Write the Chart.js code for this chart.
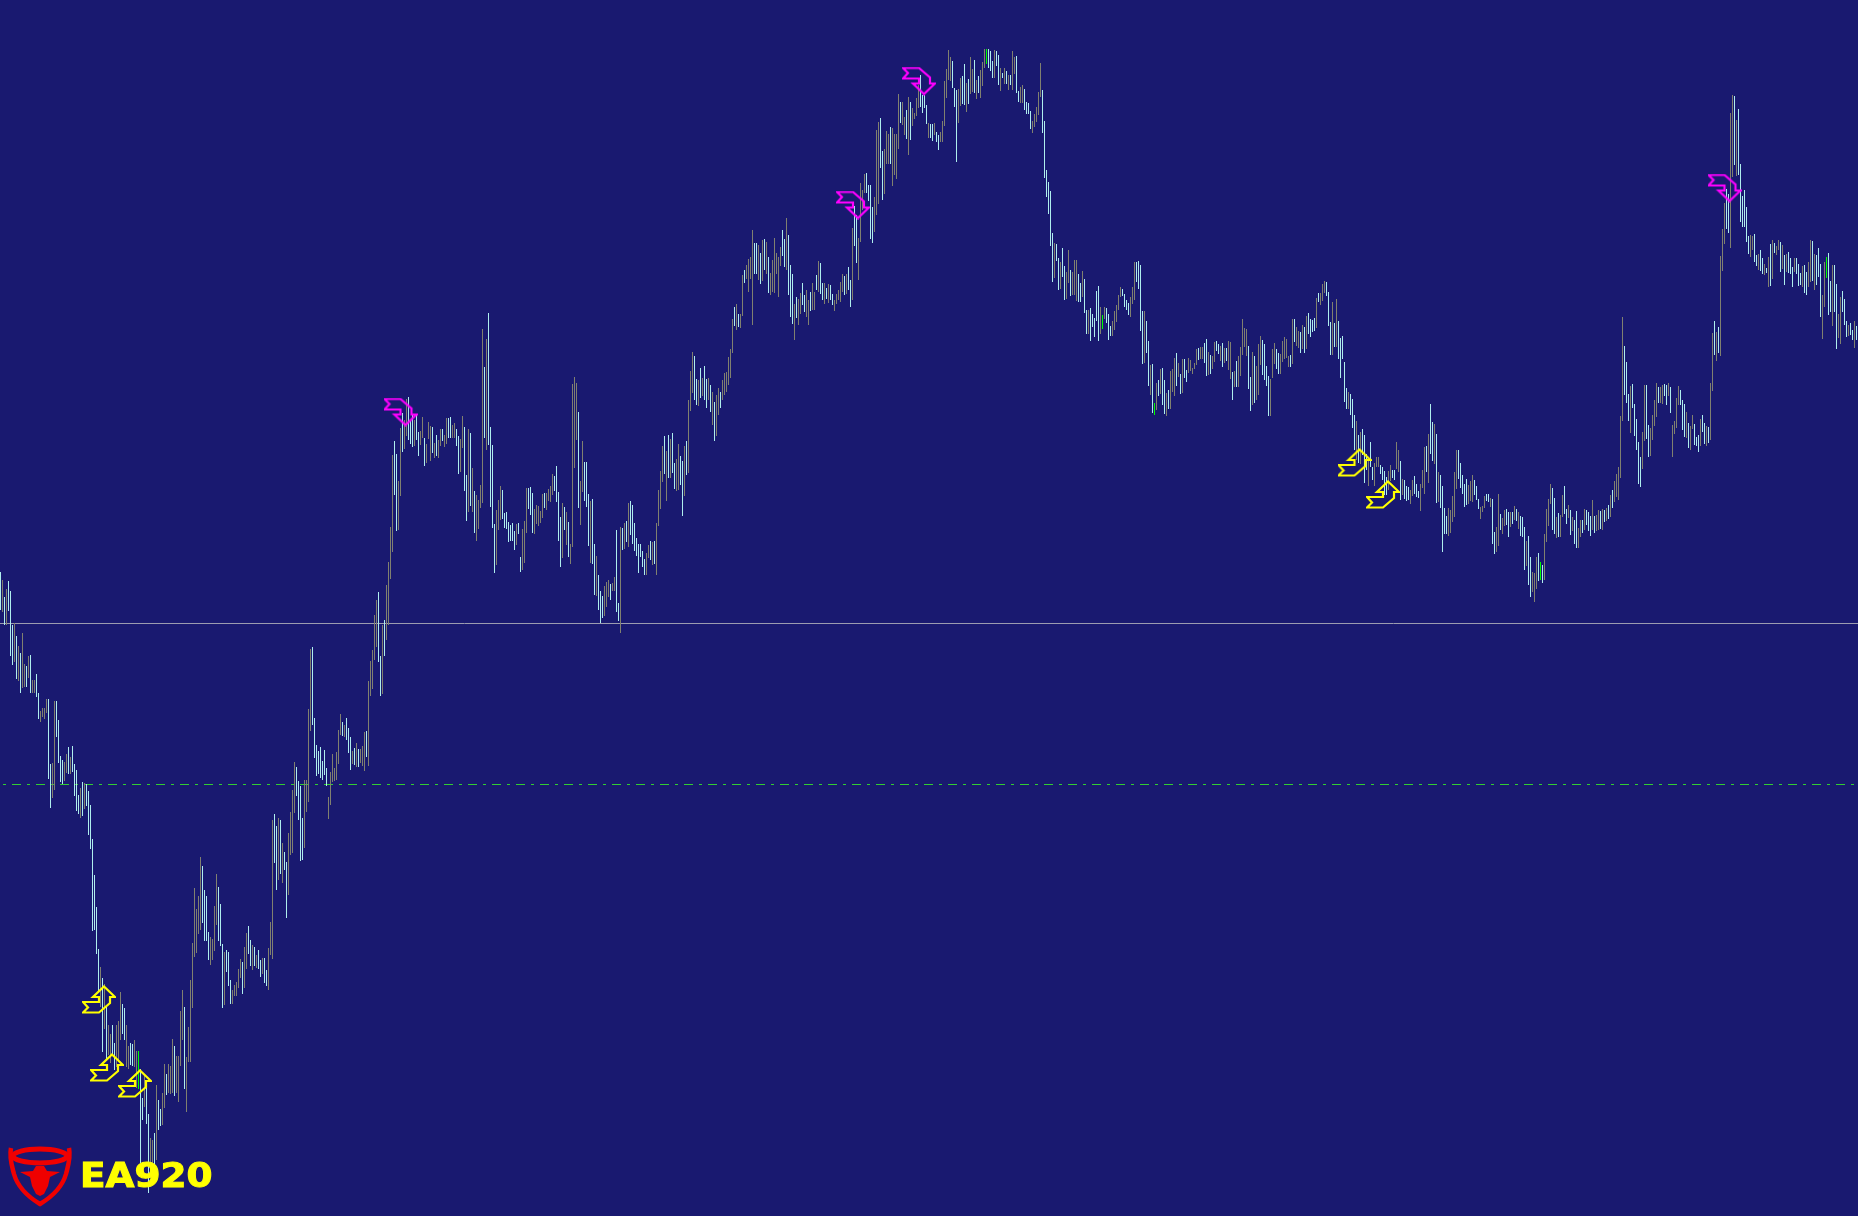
<!DOCTYPE html>
<html>
<head>
<meta charset="utf-8">
<title>EA920</title>
<script src="https://cdn.jsdelivr.net/npm/chart.js@4/dist/chart.umd.js"></script>
<style>
  html, body { margin: 0; padding: 0; background: #191970; overflow: hidden; }
  #wrap { position: relative; width: 1858px; height: 1216px; }
  canvas { display: block; }
  #bull { position: absolute; left: 0; top: 1140px; filter: blur(0.5px); }
  #brand {
    position: absolute; left: 80px; top: 1154px; color: #ffff00;
    font: bold 34px "DejaVu Sans"; line-height: 42px; letter-spacing: 0;
    transform: scaleX(1.1); transform-origin: left top;
    -webkit-text-stroke: 1px #ffff00; filter: blur(0.5px);
  }
</style>
</head>
<body>
<div id="wrap">
  <canvas id="chart" width="1858" height="1216"></canvas>
  <svg id="bull" width="80" height="70" viewBox="0 0 80 70">
    <g fill="none" stroke="#f00000">
      <ellipse cx="40" cy="16" rx="27" ry="7" stroke-width="5"/>
      <path stroke-width="4.5" d="M11 8 C9 18 12 26 14 34 C18 48 30 58 40 64 C50 58 62 48 66 34 C68 26 71 18 69 8"/>
    </g>
    <path fill="#f00000" d="M20 32 L33 31 L36 26 L44 26 L47 31 L60 32 L50 37 L48 46 L44 54 L40 56 L36 54 L32 46 L30 37 Z"/>
  </svg>
  <div id="brand">EA920</div>
</div>
<script>
// values, levels count down from the top of the window
const highs = [
  572,580,597,589,581,591,625,623,636,646, 653,633,664,666,656,655,680,680,674,693,
  711,708,708,699,699,764,763,701,701,720, 756,760,762,754,747,757,746,764,770,795,
  788,782,783,784,791,805,839,875,907,949, 967,978,984,1005,1025,1034,1025,1043,1025,1021,
  992,1004,1008,1025,1046,1043,1044,1040,1051,1051, 1069,1098,1075,1082,1114,1138,1140,1133,1085,1100,
  1109,1093,1064,1074,1064,1066,1039,1046,1056,1056, 1011,990,1007,1057,1027,980,943,888,909,896,
  857,866,890,896,932,937,939,906,874,887, 904,944,952,950,952,980,990,985,982,969,
  959,962,947,933,926,940,945,947,955,950, 960,958,958,970,948,922,820,814,826,818,
  820,843,852,862,833,812,790,762,767,781, 786,818,780,780,709,649,647,718,745,751,
  747,761,750,768,797,772,754,768,752,730, 714,722,725,718,728,737,751,748,743,749,
  749,746,732,731,681,661,650,615,600,592, 656,625,620,585,562,527,455,441,454,481,
  428,413,420,399,397,421,415,420,414,432, 431,417,438,444,422,426,427,443,435,440,
  429,429,435,418,418,417,425,423,429,436, 439,416,427,475,429,433,468,491,495,500,
  485,329,367,339,313,427,445,524,510,500, 486,490,513,512,522,525,523,531,524,523,
  557,529,521,488,488,487,493,509,505,506, 511,494,493,493,489,486,474,476,466,492,
  517,503,507,512,522,544,384,377,383,412, 481,441,462,462,494,501,499,544,556,575,
  591,596,586,582,580,584,583,577,530,603, 527,528,523,521,503,501,505,523,538,544,
  544,551,559,553,545,541,542,541,523,490, 471,446,436,451,435,439,433,463,459,444,
  456,461,446,441,400,371,352,356,379,380, 368,378,366,379,378,385,392,402,395,388,
  392,380,373,372,357,349,319,307,304,314, 314,275,270,265,259,257,230,243,243,245,
  253,240,239,242,257,273,260,238,253,257, 247,230,239,218,235,265,274,304,297,299,
  293,283,295,290,300,292,283,292,275,261, 263,283,283,288,284,285,294,300,294,290,
  282,274,276,274,267,280,228,206,215,238, 183,190,174,173,185,185,207,197,130,122,
  118,151,149,131,134,127,128,134,134,94, 102,102,117,110,97,102,108,113,98,85,
  75,95,95,105,123,124,124,123,132,135, 132,121,81,69,50,57,61,88,90,89,
  78,76,64,83,79,57,69,60,80,76, 70,62,49,49,49,51,61,50,51,55,
  68,73,68,71,75,75,51,57,56,91, 87,85,89,102,103,111,121,114,107,92,
  63,90,121,170,182,191,233,243,244,258, 262,248,266,272,250,270,272,260,260,274,
  283,271,279,310,310,308,314,318,291,286, 307,315,307,308,314,326,321,311,305,295,
  287,289,294,300,303,297,287,262,262,261, 265,311,311,321,341,365,364,403,383,380,
  369,368,380,393,390,371,369,358,353,363, 374,359,359,370,358,360,368,363,349,348,
  347,347,343,339,352,355,356,342,341,344, 346,343,348,348,341,342,372,371,361,356,
  347,319,328,329,346,377,352,356,366,344, 336,340,344,366,376,379,349,343,349,353,
  354,341,337,339,356,355,319,319,327,331, 332,325,327,316,313,319,320,318,298,293,
  293,284,281,282,292,322,302,323,299,321, 338,336,362,388,392,394,399,415,421,435,
  432,429,435,454,459,442,467,463,457,457, 465,467,471,477,471,465,470,470,442,450,
  461,479,480,486,487,490,480,476,484,491, 484,470,447,446,434,404,422,424,434,472,
  475,486,508,516,508,510,496,472,450,450, 463,475,484,479,485,481,475,480,486,499,
  507,506,496,494,494,498,499,532,527,494, 514,518,510,509,512,512,512,506,509,512,
  516,517,527,541,536,557,572,573,557,553, 562,565,534,509,499,484,488,498,517,513,
  515,495,486,509,505,510,517,520,511,528, 520,520,509,510,512,516,500,516,515,510,
  511,509,510,508,505,495,490,481,474,467, 416,317,346,362,394,386,384,404,419,442,
  457,432,385,385,425,428,415,400,383,387, 387,385,384,385,383,387,425,421,398,386,
  390,400,404,412,423,426,415,424,437,435, 419,415,423,426,427,383,333,321,332,327,
  256,229,203,189,194,113,95,96,120,109, 164,196,190,207,236,235,236,234,255,254,
  250,258,264,268,257,244,240,243,246,240, 242,245,255,254,252,258,267,258,258,264,
  273,266,265,272,262,240,241,254,255,248, 264,295,262,257,253,281,265,265,284,314,
  297,291,299,321,325,323,330,321,326
];
const lows = [
  610,612,625,625,611,656,665,662,679,681, 693,688,687,687,678,693,693,693,697,719,
  722,717,719,713,779,808,798,790,737,763, 782,784,781,773,774,774,772,796,811,814,
  818,816,809,806,835,849,931,930,954,992, 1007,1052,1029,1060,1055,1063,1055,1070,1067,1062,
  1040,1034,1040,1067,1069,1065,1066,1067,1088,1089, 1163,1120,1107,1124,1193,1170,1170,1170,1160,1130,
  1126,1125,1108,1095,1093,1094,1093,1096,1093,1102, 1066,1040,1089,1112,1062,1062,1008,957,953,934,
  930,923,941,941,960,965,960,951,925,941, 946,1008,1005,972,986,1004,1004,996,996,988,
  978,994,988,969,954,966,970,966,968,969, 977,974,983,986,990,955,959,863,890,880,
  874,883,870,918,895,855,853,813,796,820, 861,860,848,812,802,731,725,758,776,774,
  778,780,775,786,819,805,782,781,780,764, 735,736,737,740,753,770,764,765,767,767,
  763,766,771,757,766,696,689,660,647,662, 696,694,656,640,625,579,552,495,531,530,
  496,452,449,436,440,444,447,446,440,456, 445,438,466,463,439,461,453,458,456,458,
  446,441,447,444,438,438,438,438,446,474, 472,448,491,521,512,506,512,533,541,529,
  508,503,438,450,445,507,528,573,565,530, 520,519,528,529,542,541,541,550,545,534,
  572,570,563,533,509,515,533,534,524,526, 523,518,508,510,501,502,495,491,502,541,
  567,558,530,545,557,564,547,468,440,508, 525,492,501,507,546,563,564,595,596,610,
  623,618,616,607,597,600,591,591,612,621, 633,550,549,542,547,535,544,551,556,573,
  557,567,575,575,558,560,565,564,575,526, 509,482,474,501,478,478,473,489,491,490,
  485,516,496,475,473,411,393,400,405,406, 398,396,400,408,400,412,425,441,436,415,
  408,400,395,392,385,378,353,326,330,327, 328,316,283,279,292,279,325,274,274,280,
  284,281,270,274,293,295,292,293,274,297, 266,256,267,270,295,317,324,340,318,325,
  314,305,312,317,325,311,310,310,290,292, 294,300,304,299,303,300,305,311,304,300,
  302,292,295,294,290,307,300,246,263,280, 242,210,193,193,201,239,243,232,215,204,
  168,200,194,164,164,164,186,175,179,149, 123,125,135,139,155,140,126,119,116,108,
  107,113,108,124,138,138,141,135,142,150, 142,142,126,98,80,81,88,107,162,123,
  106,104,105,112,104,94,92,93,99,93, 98,86,68,64,68,71,78,78,66,85,
  91,78,84,84,90,85,90,74,93,102, 103,103,110,114,114,129,133,127,122,115,
  97,133,178,197,214,246,282,278,261,290, 289,277,300,299,283,296,295,295,301,302,
  302,297,313,334,334,341,327,337,321,341, 334,329,319,323,340,336,336,330,322,310,
  297,296,307,310,315,317,304,300,282,289, 331,364,363,353,386,395,413,415,410,396,
  394,405,414,416,409,409,392,396,386,377, 394,393,378,382,373,371,374,369,365,360,
  359,359,363,376,375,374,369,362,351,354, 361,367,363,361,370,379,400,387,387,387,
  376,355,347,356,389,411,405,403,400,395, 365,375,380,386,416,416,378,364,369,374,
  374,362,359,358,367,367,364,342,346,348, 353,349,353,349,334,337,332,331,328,302,
  305,301,293,296,326,355,355,347,347,359, 378,359,402,409,409,415,428,450,460,463,
  464,455,483,470,486,467,480,486,467,467, 474,480,495,495,490,481,478,480,469,472,
  500,495,499,501,500,504,496,494,497,498, 511,488,494,472,483,454,461,464,503,502,
  508,552,534,534,536,533,522,517,489,479, 488,494,507,505,504,501,502,495,500,509,
  519,512,508,501,502,507,544,554,552,546, 530,534,526,525,537,527,524,520,521,529,
  536,537,570,566,585,597,592,602,589,581, 580,583,580,542,526,504,530,534,538,537,
  537,517,514,524,518,535,531,544,548,548, 537,533,530,525,531,536,530,533,531,530,
  529,530,522,521,519,517,508,502,497,500, 478,421,395,403,421,433,408,436,450,484,
  487,469,441,439,457,456,440,426,417,403, 403,404,396,405,396,413,457,434,428,405,
  405,430,437,438,448,450,429,445,446,452, 446,432,444,446,443,440,391,355,361,353,
  356,271,244,229,233,248,177,165,176,175, 222,227,227,242,254,257,250,262,266,270,
  271,274,275,273,287,286,279,253,255,250, 272,269,285,272,273,274,287,272,274,286,
  285,287,293,295,287,282,281,290,285,277, 317,339,307,278,315,312,326,312,349,338,
  344,312,325,337,336,335,340,348,340
];
// c = falling bar, g = rising bar, x = flat bar
const barTones = [
  'cgcgcccgcg','cggcgcggcc','ggggccggcc','ccggcgcccc','gcgccccccc','gcgcggccgg','gccggccggx','ccgccggcgc',
  'cggcgggcgg','ggcggggggg','gccccggggc','ccgcccgggg','gcggccgcgc','cgccgggccg','cgccggggcc','ccggggcccc',
  'ccccgggggg','gcgcccgcgc','gggcgggggc','cgcggggccg','gcggcccgcc','ggcgggcgcg','gcggccggcc','ggccgcgcgg',
  'ggcgccccgg','gcccccccgc','cgggcccggg','ggcggggccc','cgcgcggggc','ggcccgccgc','ccgggcggcc','gcgcgccccc',
  'cccggcgcgg','ggcgcgccgg','ccgcgggccg','cgccgcgcgg','cggggggcgc','ggcggggccg','cgcgcggggg','gccgcccgcg',
  'gccggcggcg','ccgcgccggg','ggcgccgccg','gggccccggg','ccgggcgggg','cggcgcgggg','ccccgccgcc','ggggggcccg',
  'gccgcggcgc','gggxcccgcc','gcgcgcggcc','ggccccgggg','gccccccgcc','gccggcgggc','cgccgccccc','gxgcccgggg',
  'gccccgggcc','ccgccgcxgc','gccgcgggcg','cgccgggggc','ggccgcggcc','gcgcggcgcg','ggggccgcgg','gccccgggcc',
  'gggggcgcgg','cgcgccccgc','gggcccgcgc','ccccgcccgc','gcccgccggg','ccccggccgg','cgcccggccc','gggcgccgcg',
  'ccccgggggc','ccccgggccc','gggccgccgg','cggccgcgcg','cccgccgggc','xcggggccgc','ggccgcgccg','gcgcccgcgg',
  'cgcgcgcggg','ggcccgcccc','cggccggggc','ggccgcgggg','cccgcggccc','gccgcggcgc','gggccggcgc','cccccggccg',
  'ccgcgcgcgg','cgcgcccgcc','cgccggcgcc','cggxccgccg','gcccgccgc'
].join('');

const resistanceLevel = 623.5;
const pivotLevel = 784.5;

// signal arrows, bar position and level of the marker centre
const buyBars = [49.25, 53.25, 67.25, 677, 691.25];
const buyLevels = [999.5, 1067.5, 1083.5, 462.5, 494.5];
const sellBars = [200, 426.25, 459.25, 862];
const sellLevels = [412, 205, 81, 188];

const toneColors = { c: '#afeeee', g: '#808070', x: '#00ff00' };

// MT4 style hollow arrow, the sell one is the buy one flipped
function arrowIcon(color, flip) {
  const c = document.createElement('canvas');
  c.width = 34;
  c.height = 29;
  const g = c.getContext('2d');
  if (flip) {
    g.translate(0, 29);
    g.scale(1, -1);
  }
  g.strokeStyle = color;
  g.lineWidth = 2.2;
  g.lineJoin = 'miter';
  g.beginPath();
  g.moveTo(1, 17);
  g.lineTo(17, 17);
  g.lineTo(17, 12);
  g.lineTo(11, 12);
  g.lineTo(22, 1.5);
  g.lineTo(33, 12);
  g.lineTo(28, 12);
  g.lineTo(28, 18);
  g.lineTo(17, 27.5);
  g.lineTo(1, 27.5);
  g.lineTo(6, 22.5);
  g.closePath();
  g.stroke();
  return c;
}

new Chart(document.getElementById('chart'), {
  data: {
    datasets: [
      {
        type: 'scatter',
        order: 0,
        data: buyBars.map((x, i) => ({ x: x, y: buyLevels[i] })),
        pointStyle: arrowIcon('#ffff00', false)
      },
      {
        type: 'scatter',
        order: 0,
        data: sellBars.map((x, i) => ({ x: x, y: sellLevels[i] })),
        pointStyle: arrowIcon('#ff00ff', true)
      },
      {
        type: 'bar',
        order: 1,
        data: highs.map((h, i) => ({ x: i, y: [h, lows[i]] })),
        backgroundColor: highs.map((h, i) => toneColors[barTones[i]]),
        barThickness: 1,
        inflateAmount: 0, // auto adds a third of a pixel and blurs the 1px bars
        borderWidth: 0
      },
      {
        type: 'line',
        order: 2,
        data: [{ x: -0.25, y: resistanceLevel }, { x: 928.75, y: resistanceLevel }],
        borderColor: '#9c9cb0',
        borderWidth: 1,
        pointRadius: 0
      },
      {
        type: 'line',
        order: 2,
        data: [{ x: -0.25, y: pivotLevel }, { x: 928.75, y: pivotLevel }],
        borderColor: '#32cd32',
        borderWidth: 1,
        borderDash: [9, 6, 3, 6],
        borderDashOffset: 12,
        pointRadius: 0
      }
    ]
  },
  options: {
    responsive: false,
    animation: false,
    devicePixelRatio: 1,
    layout: { padding: 0, autoPadding: false },
    plugins: { legend: { display: false }, tooltip: { enabled: false } },
    scales: {
      x: { type: 'linear', display: false, offset: false, min: -0.25, max: 928.75 },
      y: { type: 'linear', display: false, min: 0, max: 1216, reverse: true }
    }
  }
});
</script>
</body>
</html>
